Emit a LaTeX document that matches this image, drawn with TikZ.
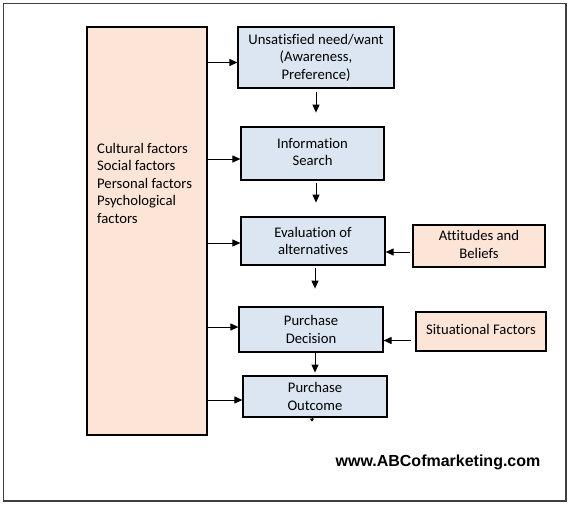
\documentclass[tikz,border=0pt]{standalone}
\usepackage{fontspec}
\setmainfont{Carlito}[Ligatures=CommonOff]
\newfontfamily\webfont{Liberation Sans}
\usetikzlibrary{arrows.meta,calc}
\definecolor{peach}{HTML}{FCE4D6}
\definecolor{paleblue}{HTML}{DCE6F2}
\definecolor{framegray}{HTML}{404040}
\tikzset{
  stepbox/.style={draw=black,line width=1.2pt,fill=paleblue,inner sep=0pt,align=center,
    font=\fontsize{14.67pt}{17.5pt}\selectfont},
  factorbox/.style={draw=black,line width=1.2pt,fill=peach,inner sep=0pt,align=center,
    font=\fontsize{14.67pt}{17.5pt}\selectfont},
  arr/.style={line width=1pt,-{Triangle[length=8pt,width=7pt]}},
}
\begin{document}
\begin{tikzpicture}[x=1pt,y=-1pt]
\useasboundingbox (0,0) rectangle (572,504);
\draw[framegray,line width=1.5pt] (3.5,3.5) rectangle (566,501);
% left factor box
\node[factorbox,minimum width=120pt,minimum height=408pt] (left) at (147,231) {};
\node[anchor=north west,inner sep=0pt,align=left,font=\fontsize{14.67pt}{17.5pt}\selectfont] (lefttxt) at (97,143)
  {Cultural factors\\Social factors\\Personal factors\\Psychological\\factors};
% steps
\node[stepbox,minimum width=156pt,minimum height=61pt] (b1) at (316,57.5) {Unsatisfied need/want\\(Awareness,\\Preference)};
\node[stepbox,minimum width=143pt,minimum height=53pt] (b2) at (312.5,153.5) {\raisebox{3pt}{\begin{tabular}{@{}c@{}}Information\\Search\end{tabular}}};
\node[stepbox,minimum width=144pt,minimum height=48pt] (b3) at (313,241) {Evaluation of\\alternatives};
\node[stepbox,minimum width=144pt,minimum height=45pt] (b4) at (311,329.5) {Purchase\\Decision};
\node[stepbox,minimum width=144pt,minimum height=41pt] (b5) at (315,396.5) {Purchase\\Outcome};
% side factors
\node[factorbox,minimum width=132pt,minimum height=42pt] (att) at (479,246) {\raisebox{-3pt}{\begin{tabular}{@{}c@{}}Attitudes and\\Beliefs\end{tabular}}};
\node[factorbox,minimum width=130pt,minimum height=39pt] (sit) at (481,331.5) {\raisebox{5pt}{Situational Factors}};
% website
\node[font=\webfont\bfseries\fontsize{16pt}{19pt}\selectfont,inner sep=0pt] (web) at (438,462) {www.ABCofmarketing.com};
% arrows from left box
\draw[arr] ([yshift=-5pt]left.east |- b1.west) -- ([yshift=-5pt]b1.west);
\draw[arr] ([yshift=-5.5pt]left.east |- b2.west) -- ([yshift=-5.5pt]b2.west);
\draw[arr] ([yshift=-2pt]left.east |- b3.west) -- ([yshift=-2pt]b3.west);
\draw[arr] ([yshift=2.5pt]left.east |- b4.west) -- ([yshift=2.5pt]b4.west);
\draw[arr] ([yshift=-3.5pt]left.east |- b5.west) -- ([yshift=-3.5pt]b5.west);
% vertical arrows
\draw[arr] ($(b1.south)+(0,3)$) -- ($(b1.south)+(0,24)$);
\draw[arr] ($(b2.south)+(3.5,2)$) -- ($(b2.south)+(3.5,22)$);
\draw[arr] ($(b3.south)+(2,2)$) -- ($(b3.south)+(2,23)$);
\draw[arr] ($(b4.south)+(4,0)$) -- ($(b4.south)+(4,20)$);
\coordinate (tail) at ($(b5.south)+(-3,4)$);
\draw[line width=0.8pt,-{Triangle[length=3pt,width=4pt]}] ($(b5.south)+(-3,0)$) -- (tail);
% arrows from side factors
\draw[arr] ([xshift=-2pt,yshift=-6pt]att.west) -- ([yshift=-6pt]att.west -| b3.east);
\draw[arr] ([xshift=-4pt,yshift=-9pt]sit.west) -- ([yshift=-9pt]sit.west -| b4.east);
\end{tikzpicture}
\end{document}
